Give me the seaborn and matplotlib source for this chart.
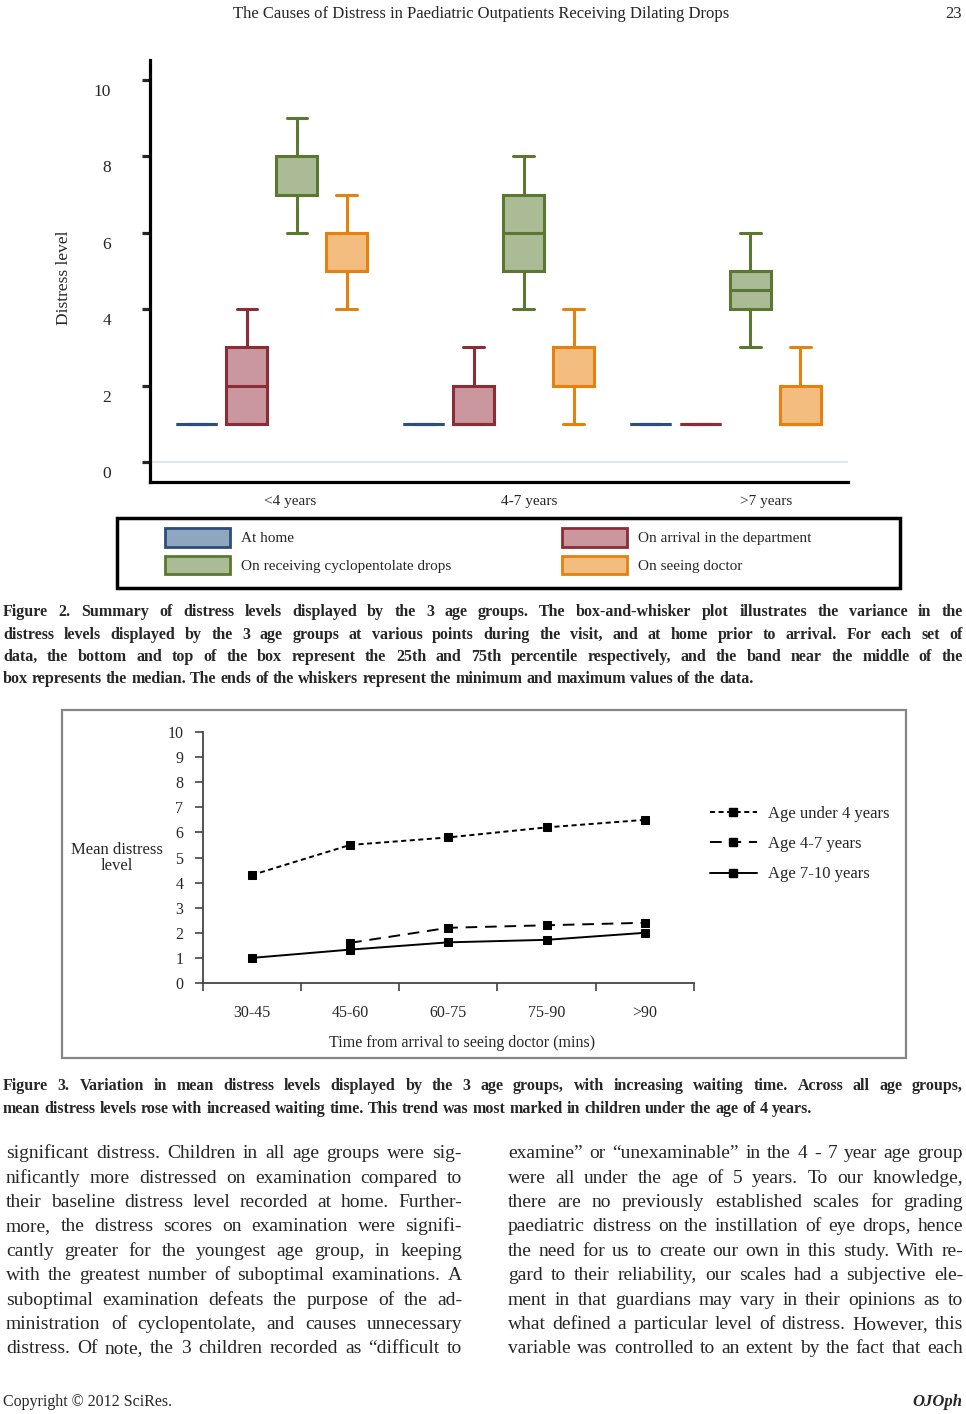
import numpy as np
import pandas as pd
import matplotlib
matplotlib.use("Agg")
import matplotlib.pyplot as plt
import seaborn as sns
from matplotlib.patches import Patch, Rectangle
from matplotlib.lines import Line2D
from matplotlib.transforms import Affine2D, ScaledTranslation

W, H = 966, 1414

# ---- Figure 2: five-number summaries [min, q1, median, q3, max] per age group ----
age_groups = ["<4 years", "4-7 years", ">7 years"]
stages = ["At home", "On arrival in the department",
          "On receiving cyclopentolate drops", "On seeing doctor"]
at_home = [[1, 1, 1, 1, 1], [1, 1, 1, 1, 1], [1, 1, 1, 1, 1]]
on_arrival = [[1, 1, 2, 3, 4], [1, 1, 1, 2, 3], [1, 1, 1, 1, 1]]
on_drops = [[6, 7, 7, 8, 9], [4, 5, 6, 7, 8], [3, 4, 4.5, 5, 6]]
on_doctor = [[4, 5, 5, 6, 7], [1, 2, 2, 3, 4], [1, 1, 1, 2, 3]]

# ---- Figure 3: mean distress by waiting time ----
wait_times = ["30-45", "45-60", "60-75", "75-90", ">90"]
age_series = ["Age under 4 years", "Age 4-7 years", "Age 7-10 years"]
under_4 = [4.3, 5.5, 5.8, 6.2, 6.5]
age_4_7 = [np.nan, 1.6, 2.2, 2.3, 2.4]
age_7_10 = [1.0, 1.33, 1.62, 1.72, 2.0]

stage_face = {"At home": "#8fa6c0", "On arrival in the department": "#c9979d",
              "On receiving cyclopentolate drops": "#aabb96", "On seeing doctor": "#f3bd7f"}
stage_edge = {"At home": "#2d4e78", "On arrival in the department": "#8c2c36",
              "On receiving cyclopentolate drops": "#5a7831", "On seeing doctor": "#e5810f"}

sns.set_style("ticks")
plt.rcParams["font.family"] = ["Liberation Serif", "DejaVu Serif"]

fig = plt.figure(figsize=(W / 100, H / 100), dpi=100)
px = Affine2D().scale(1 / W, 1 / H) + fig.transFigure  # pixel coords, origin bottom-left


def shift(artist, dx, dy):
    artist.set_transform(artist.get_transform() + ScaledTranslation(dx / 100, dy / 100, fig.dpi_scale_trans))


# ================= Figure 2 box plot =================
rows = []
for stage, summ in zip(stages, [at_home, on_arrival, on_drops, on_doctor]):
    for grp, five in zip(age_groups, summ):
        for v in five:
            rows.append((grp, stage, v))
box_df = pd.DataFrame(rows, columns=["age", "stage", "distress"])

ax = fig.add_axes([150 / W, 1 - 482 / H, 698 / W, 422 / H])
ax.axhline(0, color="#dde9e9", lw=1.5, zorder=0.5)
sns.boxplot(data=box_df, x="age", y="distress", order=age_groups,
            hue="stage", hue_order=stages, palette=stage_face,
            linecolor="black", linewidth=2.2, whis=(0, 100),
            width=0.88, gap=0.18, saturation=1, showfliers=False,
            legend=False, ax=ax)
# each hue level gets its own darker outline colour
for cont, stage in zip(ax.containers, stages):
    for b in cont.boxes:
        b.set_edgecolor(stage_edge[stage])
    for ln in list(cont.whiskers) + list(cont.caps) + list(cont.medians):
        ln.set_color(stage_edge[stage])

ax.set_xlim(-0.537, 2.54)
ax.set_ylim(-0.52, 10.52)
ax.set_yticks([0, 2, 4, 6, 8, 10])
ax.set_xticks([0, 1, 2], labels=age_groups)
ax.set_xlabel("")
ax.set_ylabel("Distress level", fontsize=12.5)
ax.yaxis.set_label_coords(-0.112, 0.483)
for s in ["top", "right"]:
    ax.spines[s].set_visible(False)
for s in ["left", "bottom"]:
    ax.spines[s].set_linewidth(2.3)
    ax.spines[s].set_color("black")
ax.tick_params(axis="y", direction="out", length=6, width=2.3, pad=22, labelsize=12.5)
ax.tick_params(axis="x", length=0, pad=9, labelsize=11)
for lab in ax.get_yticklabels():
    shift(lab, 0, -10)
for lab, dx in zip(ax.get_xticklabels(), [18, 31, 41]):
    shift(lab, dx, 0)

# legend of figure 2
legend_order = ["At home", "On receiving cyclopentolate drops",
                "On arrival in the department", "On seeing doctor"]
handles = [Patch(facecolor=stage_face[s], edgecolor=stage_edge[s], linewidth=2)
           for s in legend_order]
fig.legend(handles, legend_order, ncol=2, loc="upper left",
           bbox_to_anchor=(165 / W, 1 - 528 / H), frameon=False,
           prop={"size": 11}, handlelength=4.25, handleheight=1.5,
           handletextpad=0.7, columnspacing=7.3, labelspacing=0.6,
           borderpad=0, borderaxespad=0)
fig.add_artist(Rectangle((117, H - 588), 783, 70, transform=px, fill=False,
                         lw=2.5, edgecolor="black"))

# ================= Figure 3 line chart =================
fig.add_artist(Rectangle((62, H - 1058), 844, 348, transform=px, fill=False,
                         lw=1.6, edgecolor="#858585"))
line_df = pd.DataFrame({
    "time": wait_times * 3,
    "group": np.repeat(age_series, len(wait_times)),
    "distress": under_4 + age_4_7 + age_7_10,
})
series_dashes = {"Age under 4 years": (2.6, 1.8), "Age 4-7 years": (6, 4), "Age 7-10 years": ""}

ax2 = fig.add_axes([202.7 / W, 1 - 983 / H, 491.3 / W, 251 / H])
sns.lineplot(data=line_df, x="time", y="distress", hue="group", style="group",
             hue_order=age_series, style_order=age_series,
             palette={s: "black" for s in age_series}, dashes=series_dashes,
             markers={s: "s" for s in age_series}, markersize=6,
             markeredgecolor="black", lw=1.4, legend=False, ax=ax2)
ax2.set_xlim(-0.5, 4.5)
ax2.set_ylim(0, 10)
ax2.set_yticks(range(11))
ax2.set_xticks(range(5), labels=wait_times)
ax2.set_xticks(np.arange(-0.5, 5, 1), minor=True)
for s in ["top", "right"]:
    ax2.spines[s].set_visible(False)
for s in ["left", "bottom"]:
    ax2.spines[s].set_linewidth(1.3)
    ax2.spines[s].set_color("#444444")
ax2.tick_params(axis="y", direction="out", length=6, width=1.2, color="#444444",
                pad=8, labelsize=11.5)
ax2.tick_params(axis="x", which="major", length=0, pad=16, labelsize=11.5)
ax2.tick_params(axis="x", which="minor", direction="out", length=6, width=1.2,
                color="#444444")
ax2.set_ylabel("Mean distress\nlevel", rotation=0, fontsize=12, ha="center",
               va="center", linespacing=1.0)
ax2.yaxis.set_label_coords(-0.175, 0.498)
ax2.set_xlabel("Time from arrival to seeing doctor (mins)", fontsize=11.5)
ax2.xaxis.set_label_coords(0.528, -0.239)
ax2.xaxis.label.set_va("center")

line_handles = [Line2D([], [], color="black", lw=1.4, marker="s", markersize=6,
                       linestyle="-" if series_dashes[s] == "" else (0, series_dashes[s]))
                for s in age_series]
ax2.legend(line_handles, age_series, loc="upper left",
           bbox_to_anchor=(710 / W, 1 - 806 / H), bbox_transform=fig.transFigure,
           frameon=False, prop={"size": 12}, handlelength=2.8,
           handletextpad=0.7, labelspacing=0.85, borderpad=0, borderaxespad=0,
           numpoints=1)


# ================= page text =================
def text_block(lines, x0, x1, y_first, step, size, weight="normal", justify_last=True):
    r = fig.canvas.get_renderer()
    arts_lines = [[fig.text(0, 0, w, transform=px, fontsize=size, fontweight=weight,
                            va="baseline", ha="left") for w in line.split()]
                  for line in lines]
    min_gap = 0.18 * size * 100 / 72
    need = max((sum(a.get_window_extent(r).width for a in arts) + min_gap * (len(arts) - 1))
               / (x1 - x0) for arts in arts_lines)
    if need > 1:
        size = size / need
        for arts in arts_lines:
            for a in arts:
                a.set_fontsize(size)
    for i, arts in enumerate(arts_lines):
        widths = [a.get_window_extent(r).width for a in arts]
        justify = (i < len(arts_lines) - 1) or justify_last
        gap = (x1 - x0 - sum(widths)) / (len(arts) - 1) if justify else 0.25 * size * 100 / 72
        x = x0
        base = H - (y_first + i * step) - 0.33 * size * 100 / 72
        for a, w in zip(arts, widths):
            a.set_position((x, base))
            x += w + gap


fig.text(481, H - 14, "The Causes of Distress in Paediatric Outpatients Receiving Dilating Drops",
         transform=px, ha="center", va="center", fontsize=12)
fig.text(962, H - 14, "23", transform=px, ha="right", va="center", fontsize=12)

cap2 = [
    "Figure 2. Summary of distress levels displayed by the 3 age groups. The box-and-whisker plot illustrates the variance in the",
    "distress levels displayed by the 3 age groups at various points during the visit, and at home prior to arrival. For each set of",
    "data, the bottom and top of the box represent the 25th and 75th percentile respectively, and the band near the middle of the",
    "box represents the median. The ends of the whiskers represent the minimum and maximum values of the data.",
]
text_block(cap2, 3, 963, 611, 22.3, 11.5, weight="bold", justify_last=False)

cap3 = [
    "Figure 3. Variation in mean distress levels displayed by the 3 age groups, with increasing waiting time. Across all age groups,",
    "mean distress levels rose with increased waiting time. This trend was most marked in children under the age of 4 years.",
]
text_block(cap3, 3, 963, 1085, 22.3, 11.5, weight="bold", justify_last=False)

left_col = [
    "significant distress. Children in all age groups were sig-",
    "nificantly more distressed on examination compared to",
    "their baseline distress level recorded at home. Further-",
    "more, the distress scores on examination were signifi-",
    "cantly greater for the youngest age group, in keeping",
    "with the greatest number of suboptimal examinations. A",
    "suboptimal examination defeats the purpose of the ad-",
    "ministration of cyclopentolate, and causes unnecessary",
    "distress. Of note, the 3 children recorded as \u201cdifficult to",
]
right_col = [
    "examine\u201d or \u201cunexaminable\u201d in the 4 - 7 year age group",
    "were all under the age of 5 years. To our knowledge,",
    "there are no previously established scales for grading",
    "paediatric distress on the instillation of eye drops, hence",
    "the need for us to create our own in this study. With re-",
    "gard to their reliability, our scales had a subjective ele-",
    "ment in that guardians may vary in their opinions as to",
    "what defined a particular level of distress. However, this",
    "variable was controlled to an extent by the fact that each",
]
text_block(left_col, 6, 462, 1152, 24.35, 14)
text_block(right_col, 508, 963, 1152, 24.35, 14)

fig.text(3, H - 1402, "Copyright \u00a9 2012 SciRes.", transform=px, ha="left",
         va="center", fontsize=11.5)
fig.text(962, H - 1402, "OJOph", transform=px, ha="right", va="center",
         fontsize=12, fontweight="bold", fontstyle="italic")

fig.savefig("out.png", dpi=100)
